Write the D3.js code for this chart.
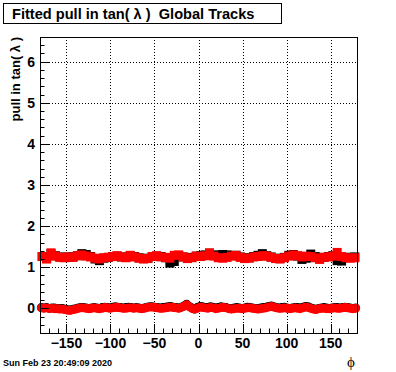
<!DOCTYPE html>
<html>
<head>
<meta charset="utf-8">
<script src="https://cdn.jsdelivr.net/npm/d3@7"></script>
<style>
  body { margin: 0; background: #fff; }
  svg { display: block; font-family: "Liberation Sans", Arial, sans-serif; font-weight: bold; }
  svg text { white-space: pre; }
</style>
</head>
<body>
<div id="chart"></div>
<script>
const width = 396
const height = 372

// upper band: black and red, 72 bins of 5 degrees
const upperBlack = [1.26,1.21,1.33,1.28,1.25,1.24,1.25,1.25,1.28,1.33,1.31,1.26,1.20,1.16,1.22,1.24,1.26,1.27,1.25,1.24,1.28,1.26,1.23,1.21,1.22,1.26,1.27,1.26,1.23,1.10,1.14,1.28,1.25,1.23,1.24,1.27,1.28,1.30,1.34,1.29,1.30,1.31,1.30,1.28,1.29,1.25,1.22,1.23,1.26,1.29,1.33,1.28,1.25,1.22,1.21,1.24,1.29,1.31,1.27,1.19,1.22,1.32,1.26,1.21,1.24,1.26,1.28,1.16,1.15,1.24,1.24,1.25]
const upperRed = [1.26,1.20,1.35,1.27,1.24,1.23,1.25,1.24,1.28,1.30,1.27,1.25,1.22,1.20,1.23,1.24,1.26,1.28,1.25,1.23,1.29,1.25,1.22,1.20,1.21,1.26,1.28,1.25,1.24,1.22,1.29,1.30,1.25,1.21,1.23,1.27,1.26,1.28,1.35,1.27,1.23,1.22,1.24,1.27,1.29,1.24,1.21,1.22,1.25,1.26,1.28,1.27,1.24,1.21,1.20,1.23,1.27,1.30,1.28,1.25,1.27,1.26,1.23,1.19,1.24,1.25,1.27,1.36,1.26,1.23,1.22,1.23]

// lower band: black and red, 120 bins of 3 degrees
const lowerBlack = [0.02,0.01,0.02,0.00,0.01,0.01,0.00,-0.01,0.00,-0.02,-0.03,-0.04,-0.02,-0.01,0.01,0.02,0.02,0.01,0.00,0.01,0.02,0.01,0.00,0.02,0.03,0.02,0.01,0.03,0.04,0.03,0.02,0.01,0.02,0.03,0.02,0.01,0.02,0.01,0.00,0.01,0.03,0.04,0.04,0.03,0.02,0.01,0.02,0.03,0.04,0.05,0.03,0.02,0.01,0.03,0.06,0.10,0.05,0.01,-0.02,0.02,0.05,0.04,0.02,0.02,0.04,0.03,0.01,0.02,0.04,0.03,0.02,0.00,-0.01,0.01,0.02,0.01,0.00,0.01,0.03,0.02,0.01,0.00,-0.01,0.01,0.02,0.03,0.05,0.06,0.04,0.02,0.01,0.02,0.03,0.01,0.00,0.01,0.02,0.02,0.01,0.03,0.05,0.04,0.01,-0.01,-0.02,0.00,0.01,0.02,0.01,0.00,0.01,0.02,0.02,0.01,0.02,0.03,0.02,0.01,0.00,0.01]
const lowerRed = [0.01,0.00,0.01,0.00,0.00,-0.01,-0.01,-0.02,-0.02,-0.03,-0.05,-0.05,-0.03,-0.02,0.00,0.01,0.01,0.00,-0.01,0.00,0.01,0.00,-0.01,0.00,0.02,0.01,0.00,0.01,0.02,0.02,0.01,0.00,0.00,0.01,0.01,0.00,0.01,0.00,-0.01,0.00,0.02,0.03,0.03,0.02,0.01,0.00,0.00,0.01,0.02,0.03,0.02,0.01,0.00,0.02,0.05,0.09,0.04,0.00,-0.02,0.00,0.03,0.02,0.01,0.00,0.02,0.01,-0.01,0.00,0.02,0.02,0.01,-0.01,-0.02,-0.01,0.00,0.00,-0.01,0.00,0.01,0.01,0.00,-0.01,-0.02,-0.01,0.00,0.01,0.03,0.05,0.03,0.01,0.00,0.00,0.01,0.00,-0.01,0.00,0.01,0.00,-0.01,0.01,0.03,0.02,0.00,-0.02,-0.03,-0.01,0.00,0.00,-0.01,-0.01,0.00,0.01,0.00,0.00,0.01,0.02,0.01,0.00,-0.01,0.00]

const yTicks = [0, 1, 2, 3, 4, 5, 6]
const xTicks = [-150, -100, -50, 0, 50, 100, 150]

const frame = {left: 40, right: 357, top: 37, bottom: 333}

const x = d3.scaleLinear().domain([-180, 180]).range([frame.left, frame.right])
const y = d3.scaleLinear().domain([-0.6, 6.6]).range([frame.bottom, frame.top])

const svg = d3.select("#chart").append("svg")
  .attr("width", width)
  .attr("height", height)

svg.append("rect").attr("width", width).attr("height", height).attr("fill", "#fff")

// grid
const grid = svg.append("g").attr("stroke", "#000").attr("stroke-width", 1).attr("stroke-dasharray", "1,2")
grid.selectAll("line.gx").data(xTicks).join("line")
  .attr("x1", d => Math.round(x(d)) + 0.5).attr("x2", d => Math.round(x(d)) + 0.5)
  .attr("y1", frame.top).attr("y2", frame.bottom)
grid.selectAll("line.gy").data(yTicks).join("line")
  .attr("y1", d => Math.round(y(d)) + 0.5).attr("y2", d => Math.round(y(d)) + 0.5)
  .attr("x1", frame.left).attr("x2", frame.right)

// data
const binCenters = (arr) => arr.map((v, i) => ({phi: -180 + (i + 0.5) * 360 / arr.length, v}))

const drawSquares = (arr, color, w, h) => {
  svg.append("g").selectAll("rect").data(binCenters(arr)).join("rect")
    .attr("x", d => x(d.phi) - w / 2)
    .attr("y", d => y(d.v) - h / 2)
    .attr("width", w)
    .attr("height", h)
    .attr("fill", color)
}
const drawDots = (arr, color, r) => {
  svg.append("g").selectAll("circle").data(binCenters(arr)).join("circle")
    .attr("cx", d => x(d.phi))
    .attr("cy", d => y(d.v))
    .attr("r", r)
    .attr("fill", color)
}

drawSquares(upperBlack, "#000", 9, 9)
drawSquares(upperRed, "#ff0000", 9, 9)
drawDots(lowerBlack, "#000", 4.4)
drawDots(lowerRed, "#ff0000", 4.4)

// axes ticks (inside the frame, ROOT style)
const ax = svg.append("g").attr("stroke", "#000").attr("stroke-width", 1)
const yMinor = d3.range(-0.6, 6.61, 0.2).map(v => +v.toFixed(1))
ax.selectAll("line.ty").data(yMinor).join("line")
  .attr("x1", frame.left)
  .attr("x2", d => frame.left + (Math.abs(d - Math.round(d)) < 1e-6 ? 9 : 4.5))
  .attr("y1", d => Math.round(y(d)) + 0.5).attr("y2", d => Math.round(y(d)) + 0.5)
const xMinor = d3.range(-170, 171, 10)
ax.selectAll("line.tx").data(xMinor).join("line")
  .attr("x1", d => Math.round(x(d)) + 0.5).attr("x2", d => Math.round(x(d)) + 0.5)
  .attr("y1", frame.bottom)
  .attr("y2", d => frame.bottom - (d % 50 === 0 ? 9 : 4.5))

// frame
svg.append("rect")
  .attr("x", frame.left + 0.5).attr("y", frame.top + 0.5)
  .attr("width", frame.right - frame.left).attr("height", frame.bottom - frame.top)
  .attr("fill", "none").attr("stroke", "#000")

// tick labels
svg.append("g").selectAll("text").data(yTicks).join("text")
  .attr("x", 35).attr("y", d => y(d) + 5)
  .attr("text-anchor", "end")
  .attr("font-size", 14)
  .text(d => d)
svg.append("g").selectAll("text").data(xTicks).join("text")
  .attr("x", d => x(d)).attr("y", 348)
  .attr("text-anchor", "middle")
  .attr("font-size", 14)
  .text(d => d < 0 ? "\u2212" + Math.abs(d) : d)

// axis titles
svg.append("text")
  .attr("transform", "translate(20,37) rotate(-90)")
  .attr("text-anchor", "end")
  .attr("font-size", 13)
  .text("pull in tan( \u03bb )")
svg.append("text")
  .attr("x", 351).attr("y", 367)
  .attr("text-anchor", "middle")
  .attr("font-family", "'Liberation Serif', serif")
  .attr("font-weight", "normal")
  .attr("font-size", 15)
  .text("\u03d5")

// title box
svg.append("rect")
  .attr("x", 3.5).attr("y", 3.5).attr("width", 278).attr("height", 20)
  .attr("fill", "#fff").attr("stroke", "#000")
svg.append("text")
  .attr("x", 12).attr("y", 19)
  .attr("font-size", 14.6)
  .text("Fitted pull in tan( \u03bb )  Global Tracks")

// date stamp
svg.append("text")
  .attr("x", 3).attr("y", 366)
  .attr("font-size", 9)
  .text("Sun Feb 23 20:49:09 2020")
</script>
</body>
</html>
